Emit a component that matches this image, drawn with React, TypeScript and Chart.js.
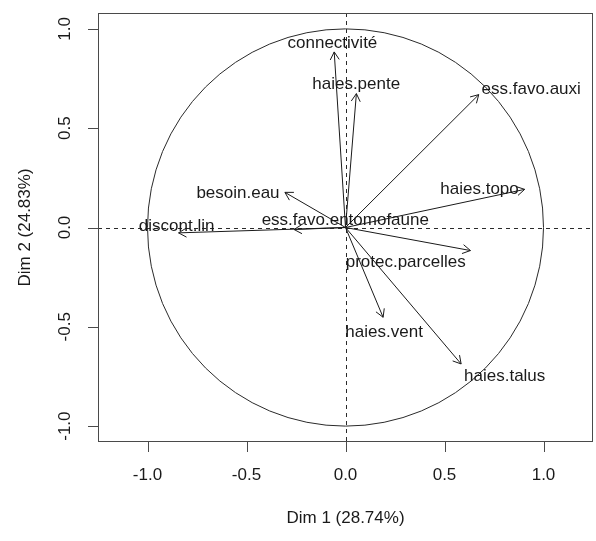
import React, { useEffect, useRef } from "react";
import { Chart, registerables } from "chart.js";

Chart.register(...registerables);

const variables = [
  "connectivité",
  "haies.pente",
  "ess.favo.auxi",
  "haies.topo",
  "besoin.eau",
  "discont.lin",
  "ess.favo.entomofaune",
  "protec.parcelles",
  "haies.vent",
  "haies.talus",
];
const dim1 = [-0.057, 0.055, 0.673, 0.905, -0.306, -0.843, -0.26, 0.631, 0.19, 0.584];
const dim2 = [0.884, 0.674, 0.669, 0.192, 0.177, -0.027, -0.01, -0.116, -0.452, -0.687];
const labelDim1 = [-0.066, 0.054, 0.938, 0.677, -0.543, -0.853, -0.001, 0.304, 0.195, 0.804];
const labelDim2 = [0.928, 0.721, 0.694, 0.191, 0.17, 0.007, 0.035, -0.175, -0.528, -0.751];
const tickValues = [-1, -0.5, 0, 0.5, 1];
const tickLabels = ["-1.0", "-0.5", "0.0", "0.5", "1.0"];
const xTitle = "Dim 1 (28.74%)";
const yTitle = "Dim 2 (24.83%)";

const FONT = '17px "Liberation Sans", Arial, sans-serif';
const INK = "#1a1a1a";

const pcaPlugin = {
  id: "pcaDecor",
  beforeDatasetsDraw(chart: any) {
    const { ctx, chartArea, scales } = chart;
    const xs = scales.x;
    const ys = scales.y;
    const cx = xs.getPixelForValue(0);
    const cy = ys.getPixelForValue(0);
    const rx = xs.getPixelForValue(1) - cx;
    const ry = cy - ys.getPixelForValue(1);
    ctx.save();
    ctx.strokeStyle = "#2a2a2a";
    ctx.lineWidth = 1;
    ctx.beginPath();
    ctx.ellipse(cx, cy, rx, ry, 0, 0, Math.PI * 2);
    ctx.stroke();
    ctx.setLineDash([4, 4]);
    ctx.beginPath();
    ctx.moveTo(chartArea.left, Math.round(cy) + 0.5);
    ctx.lineTo(chartArea.right, Math.round(cy) + 0.5);
    ctx.moveTo(Math.round(cx) + 0.5, chartArea.top);
    ctx.lineTo(Math.round(cx) + 0.5, chartArea.bottom);
    ctx.stroke();
    ctx.restore();
  },
  afterDatasetsDraw(chart: any) {
    const { ctx, scales } = chart;
    const xs = scales.x;
    const ys = scales.y;
    const ox = xs.getPixelForValue(0);
    const oy = ys.getPixelForValue(0);
    ctx.save();
    ctx.strokeStyle = "#1a1a1a";
    ctx.lineWidth = 1;
    const head = 9;
    const ang = Math.PI / 6;
    for (let i = 0; i < variables.length; i++) {
      const tx = xs.getPixelForValue(dim1[i]);
      const ty = ys.getPixelForValue(dim2[i]);
      const a = Math.atan2(ty - oy, tx - ox);
      ctx.beginPath();
      ctx.moveTo(tx - head * Math.cos(a - ang), ty - head * Math.sin(a - ang));
      ctx.lineTo(tx, ty);
      ctx.lineTo(tx - head * Math.cos(a + ang), ty - head * Math.sin(a + ang));
      ctx.stroke();
    }
    ctx.fillStyle = INK;
    ctx.font = FONT;
    ctx.textAlign = "center";
    ctx.textBaseline = "middle";
    for (let i = 0; i < variables.length; i++) {
      ctx.fillText(
        variables[i],
        xs.getPixelForValue(labelDim1[i]),
        ys.getPixelForValue(labelDim2[i])
      );
    }
    ctx.restore();
  },
  afterDraw(chart: any) {
    const { ctx, chartArea, scales } = chart;
    const xs = scales.x;
    const ys = scales.y;
    const { left, right, top, bottom } = chartArea;
    ctx.save();
    ctx.strokeStyle = "#4a4a4a";
    ctx.lineWidth = 1;
    ctx.strokeRect(left + 0.5, top + 0.5, right - left - 1, bottom - top - 1);
    ctx.fillStyle = INK;
    ctx.font = FONT;
    ctx.beginPath();
    for (const v of tickValues) {
      const px = Math.round(xs.getPixelForValue(v)) + 0.5;
      ctx.moveTo(px, bottom);
      ctx.lineTo(px, bottom + 10);
      const py = Math.round(ys.getPixelForValue(v)) + 0.5;
      ctx.moveTo(left, py);
      ctx.lineTo(left - 10, py);
    }
    ctx.stroke();
    ctx.textAlign = "center";
    ctx.textBaseline = "middle";
    tickValues.forEach((v, i) => {
      ctx.fillText(tickLabels[i], xs.getPixelForValue(v), bottom + 33);
    });
    tickValues.forEach((v, i) => {
      ctx.save();
      ctx.translate(left - 33, ys.getPixelForValue(v));
      ctx.rotate(-Math.PI / 2);
      ctx.fillText(tickLabels[i], 0, 0);
      ctx.restore();
    });
    ctx.fillText(xTitle, (left + right) / 2, bottom + 76);
    ctx.save();
    ctx.translate(left - 73, (top + bottom) / 2);
    ctx.rotate(-Math.PI / 2);
    ctx.fillText(yTitle, 0, 0);
    ctx.restore();
    ctx.restore();
  },
};

export default function App() {
  const canvasRef = useRef<HTMLCanvasElement | null>(null);

  useEffect(() => {
    if (!canvasRef.current) return;
    const datasets = variables.map((name, i) => ({
      label: name,
      data: [
        { x: 0, y: 0 },
        { x: dim1[i], y: dim2[i] },
      ],
      showLine: true,
      borderColor: "#1a1a1a",
      borderWidth: 1,
      pointRadius: 0,
      fill: false,
    }));
    const chart = new Chart(canvasRef.current, {
      type: "scatter",
      data: { datasets },
      options: {
        animation: false,
        responsive: false,
        devicePixelRatio: 1,
        layout: { padding: { left: 98, right: 3, top: 13, bottom: 99 } },
        plugins: {
          legend: { display: false },
          tooltip: { enabled: false },
          title: { display: false },
        },
        scales: {
          x: { type: "linear", min: -1.25, max: 1.25, display: false },
          y: { type: "linear", min: -1.08, max: 1.08, display: false },
        },
      },
      plugins: [pcaPlugin],
    } as any);
    return () => chart.destroy();
  }, []);

  return (
    <div style={{ position: "fixed", left: 0, top: 0, width: 596, height: 541, background: "#fff" }}>
      <canvas ref={canvasRef} width={596} height={541} style={{ display: "block" }} />
    </div>
  );
}
